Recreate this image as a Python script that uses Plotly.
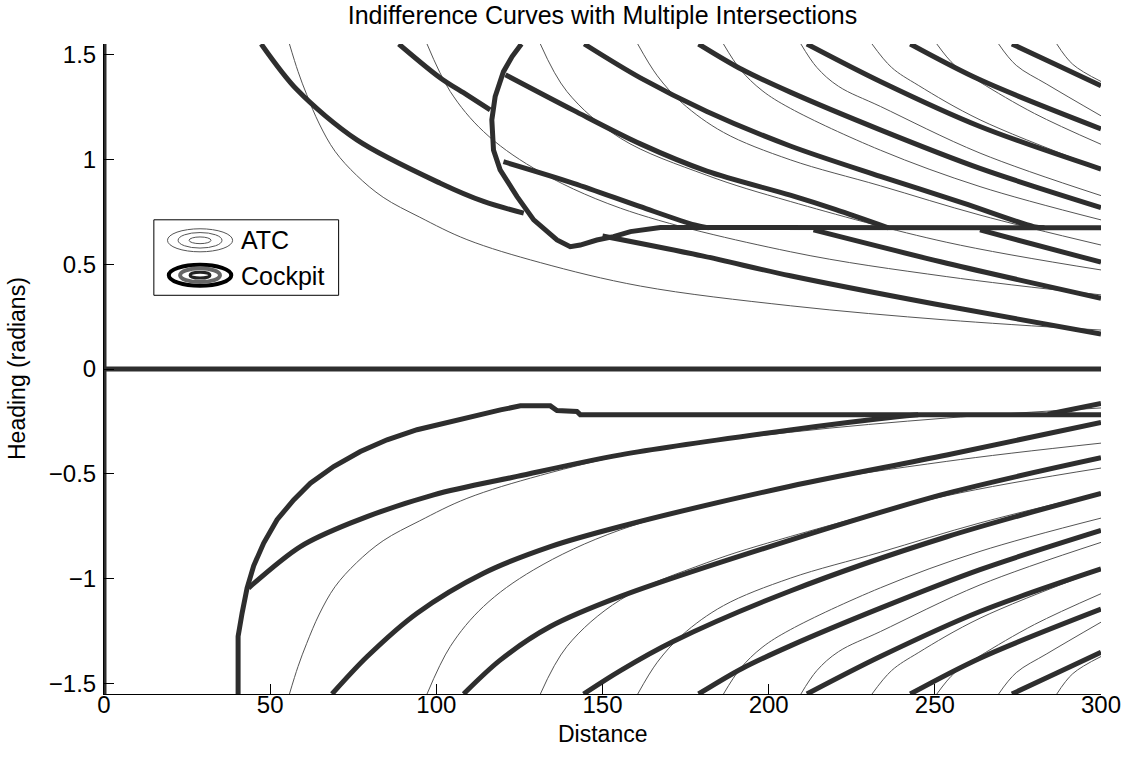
import plotly.graph_objects as go

# ---------------- data ----------------
# ATC indifference curves (thin), upper half; the lower half is their mirror image
atc1_d = [55.8, 58.4, 61.0, 64.8, 69.5, 76.0, 84.0, 95.0, 109.2, 131.3, 161.4, 206.5, 253.6, 300.0]
atc1_h = [1.552, 1.42, 1.31, 1.17, 1.04, 0.925, 0.82, 0.725, 0.618, 0.508, 0.396, 0.302, 0.234, 0.186]
atc2_d = [97.2, 104.2, 114.2, 129.3, 155.4, 206.5, 253.6, 300.0]
atc2_h = [1.552, 1.325, 1.134, 0.959, 0.768, 0.560, 0.441, 0.354]
atc3_d = [131.3, 139.3, 155.4, 181.4, 206.5, 253.6, 300.0]
atc3_h = [1.552, 1.325, 1.102, 0.925, 0.800, 0.605, 0.473]
atc4_d = [160.6, 166.5, 174.0, 186.4, 206.5, 233.6, 263.6, 300.0]
atc4_h = [1.552, 1.400, 1.270, 1.130, 0.999, 0.875, 0.735, 0.592]
atc5_d = [186.4, 191.5, 198.0, 206.5, 233.6, 263.6, 300.0]
atc5_h = [1.552, 1.430, 1.330, 1.245, 1.045, 0.871, 0.712]
atc6_d = [209.7, 214.5, 221.0, 233.6, 263.6, 300.0]
atc6_h = [1.552, 1.440, 1.350, 1.254, 1.031, 0.828]
atc7_d = [231.1, 237.0, 245.0, 263.6, 300.0]
atc7_h = [1.552, 1.440, 1.355, 1.190, 0.957]
atc8_d = [250.6, 256.0, 263.6, 280.0, 300.0]
atc8_h = [1.552, 1.450, 1.370, 1.220, 1.073]
atc9_d = [269.2, 274.5, 283.7, 300.0]
atc9_h = [1.552, 1.450, 1.360, 1.209]
atc10_d = [286.7, 291.5, 300.0]
atc10_h = [1.552, 1.455, 1.373]

# Cockpit indifference curves (thick)
cp_u1_d = [47.3, 58.1, 76.1, 101.2, 114.2, 126.3]
cp_u1_h = [1.552, 1.333, 1.094, 0.887, 0.800, 0.744]
cp_u2_d = [88.7, 101.2, 109.2, 116.2]
cp_u2_h = [1.552, 1.390, 1.309, 1.237]
cp_u3_d = [120.2, 141.3, 161.4, 177.7, 182.0]
cp_u3_h = [0.990, 0.887, 0.775, 0.688, 0.674]
cp_u4_d = [120.8, 141.3, 161.4, 181.4, 206.5, 220.0, 236.0]
cp_u4_h = [1.405, 1.235, 1.075, 0.945, 0.830, 0.762, 0.674]
cp_du_d = [144.5, 161.4, 181.4, 206.5, 233.6, 258.6, 279.7, 283.0]
cp_du_h = [1.552, 1.390, 1.230, 1.065, 0.920, 0.792, 0.680, 0.674]
cp_l1_d = [150.0, 180.0, 206.5, 250.0, 300.0]
cp_l1_h = [0.635, 0.540, 0.445, 0.310, 0.167]
cp_l2_d = [213.5, 253.6, 300.0]
cp_l2_h = [0.664, 0.505, 0.338]
cp_l3_d = [263.6, 300.0]
cp_l3_h = [0.664, 0.510]
# outer curves, symmetric about zero heading (upper half given)
cp_e_d = [178.9, 192.0, 206.5, 233.6, 263.6, 300.0]
cp_e_h = [1.552, 1.430, 1.322, 1.142, 0.958, 0.771]
cp_f_d = [211.5, 233.6, 263.6, 300.0]
cp_f_h = [1.552, 1.373, 1.158, 0.955]
cp_g_d = [242.6, 263.6, 300.0]
cp_g_h = [1.552, 1.381, 1.147]
cp_hh_d = [273.2, 286.7, 300.0]
cp_hh_h = [1.552, 1.452, 1.353]
# lower half
cp_a_d = [43.5, 59.1, 74.1, 99.2, 124.3, 155.4, 206.5, 238.6, 245.0]
cp_a_h = [-1.046, -0.848, -0.736, -0.601, -0.513, -0.410, -0.291, -0.228, -0.218]
cp_b_d = [68.6, 79.2, 94.2, 114.2, 134.3, 155.4, 206.5, 253.6, 300.0]
cp_b_h = [-1.552, -1.373, -1.166, -0.975, -0.848, -0.752, -0.560, -0.411, -0.255]
cp_c_d = [108.2, 119.3, 134.3, 155.4, 206.5, 253.6, 300.0]
cp_c_h = [-1.552, -1.389, -1.230, -1.086, -0.817, -0.594, -0.424]
cp_dl_d = [144.3, 155.4, 171.4, 206.5, 253.6, 300.0]
cp_dl_h = [-1.552, -1.440, -1.300, -1.060, -0.801, -0.594]
cp_fan_d = [284.0, 300.0]
cp_fan_h = [-0.216, -0.165]
# jagged boundaries (upper one runs into the 0.674 plateau, lower into -0.218)
bnd_up_d = [125.6, 122.8, 120.2, 117.7, 116.7, 117.2, 119.2, 124.3, 129.3, 136.3,
            140.3, 143.3, 148.3, 153.3, 158.4, 167.4, 300.0]
bnd_up_h = [1.552, 1.492, 1.420, 1.301, 1.190, 1.046, 0.951, 0.823, 0.712, 0.616,
            0.584, 0.592, 0.616, 0.632, 0.656, 0.676, 0.674]
bnd_lo_d = [40.35, 40.35, 41.55, 43.05, 45.04, 48.05, 52.08, 57.07, 62.10, 69.11,
            77.15, 85.18, 94.20, 104.2, 114.2, 119.3, 125.3, 134.3, 136.3, 142.3,
            143.3, 300.0]
bnd_lo_h = [-1.552, -1.277, -1.166, -1.046, -0.940, -0.831, -0.720, -0.625, -0.545, -0.466,
            -0.394, -0.338, -0.290, -0.251, -0.211, -0.195, -0.176, -0.176, -0.198, -0.203,
            -0.218, -0.218]
zero_h_d = [0.0, 300.0]
zero_h_h = [0.0, 0.0]
zero_v_d = [0.0, 0.0]
zero_v_h = [-1.552, 1.552]

x_ticks = [0, 50, 100, 150, 200, 250, 300]
x_ticktext = ["0", "50", "100", "150", "200", "250", "300"]
y_ticks = [-1.5, -1.0, -0.5, 0.0, 0.5, 1.0, 1.5]
y_ticktext = ["\u22121.5", "\u22121", "\u22120.5", "0", "0.5", "1", "1.5"]

# ---------------- figure ----------------
THIN = dict(color="#555555", width=1)
THICK = dict(color="#2e2e2e", width=5)
FONT = "Liberation Sans, Arial, Helvetica, sans-serif"
W, H = 1128, 761
ML, MR, MT, MB = 104, 27, 44, 67

fig = go.Figure()

atc = [(atc1_d, atc1_h), (atc2_d, atc2_h), (atc3_d, atc3_h), (atc4_d, atc4_h),
       (atc5_d, atc5_h), (atc6_d, atc6_h), (atc7_d, atc7_h), (atc8_d, atc8_h),
       (atc9_d, atc9_h), (atc10_d, atc10_h)]
for d, h in atc:
    for sgn in (1, -1):
        fig.add_trace(go.Scatter(x=d, y=[sgn * v for v in h], mode="lines",
                                 line=dict(THIN, shape="spline", smoothing=1.0),
                                 hoverinfo="skip", showlegend=False))

smooth_thick = [(cp_u1_d, cp_u1_h), (cp_u2_d, cp_u2_h), (cp_u3_d, cp_u3_h),
                (cp_u4_d, cp_u4_h), (cp_du_d, cp_du_h), (cp_l1_d, cp_l1_h),
                (cp_l2_d, cp_l2_h), (cp_l3_d, cp_l3_h), (cp_a_d, cp_a_h),
                (cp_b_d, cp_b_h), (cp_c_d, cp_c_h), (cp_dl_d, cp_dl_h),
                (cp_fan_d, cp_fan_h)]
for d, h in smooth_thick:
    fig.add_trace(go.Scatter(x=d, y=h, mode="lines",
                             line=dict(THICK, shape="spline", smoothing=0.9),
                             hoverinfo="skip", showlegend=False))
for d, h in [(cp_e_d, cp_e_h), (cp_f_d, cp_f_h), (cp_g_d, cp_g_h), (cp_hh_d, cp_hh_h)]:
    for sgn in (1, -1):
        fig.add_trace(go.Scatter(x=d, y=[sgn * v for v in h], mode="lines",
                                 line=dict(THICK, shape="spline", smoothing=0.9),
                                 hoverinfo="skip", showlegend=False))
for d, h in [(bnd_up_d, bnd_up_h), (bnd_lo_d, bnd_lo_h), (zero_h_d, zero_h_h),
             (zero_v_d, zero_v_h)]:
    fig.add_trace(go.Scatter(x=d, y=h, mode="lines", line=THICK,
                             hoverinfo="skip", showlegend=False))

# ---------------- hand-drawn legend (concentric ellipse icons) ----------------
shapes = [dict(type="rect", xref="x", yref="y", x0=15.0, x1=70.6, y0=0.352, y1=0.7125,
               line=dict(color="black", width=1), fillcolor="white", layer="above")]
cx, cy = 28.9, 0.6146
for hw, hh in [(9.8, 0.055), (6.6, 0.037), (3.3, 0.016)]:
    shapes.append(dict(type="circle", xref="x", yref="y", x0=cx - hw, x1=cx + hw,
                       y0=cy - hh, y1=cy + hh, line=dict(color="#555555", width=1)))
cy2 = 0.4480
for hw, hh, col, w in [(9.4, 0.050, "black", 4), (6.0, 0.033, "#666666", 4),
                       (3.0, 0.014, "#222222", 3)]:
    shapes.append(dict(type="circle", xref="x", yref="y", x0=cx - hw, x1=cx + hw,
                       y0=cy2 - hh, y1=cy2 + hh, line=dict(color=col, width=w)))

txt = dict(family=FONT, size=25, color="black")
lab = dict(family=FONT, size=23, color="black")
annotations = [
    dict(x=40.7, y=0.6146, xref="x", yref="y", text="ATC", showarrow=False,
         xanchor="left", yanchor="middle", font=txt),
    dict(x=40.7, y=0.4450, xref="x", yref="y", text="Cockpit", showarrow=False,
         xanchor="left", yanchor="middle", font=txt),
    # axis titles
    dict(x=0.5, y=0, xref="paper", yref="paper", text="Distance", showarrow=False,
         xanchor="center", yanchor="middle", yshift=-40, font=lab),
    dict(x=0, y=0.5, xref="paper", yref="paper", text="Heading (radians)",
         showarrow=False, textangle=-90, xanchor="center", yanchor="middle",
         xshift=-(ML - 17), font=lab),
]

fig.update_layout(
    width=W, height=H, autosize=False,
    margin=dict(l=ML, r=MR, t=MT, b=MB, autoexpand=False),
    paper_bgcolor="white", plot_bgcolor="white",
    font=dict(family=FONT, size=24, color="black"),
    title=dict(text="Indifference Curves with Multiple Intersections", x=0.5,
               xref="paper", xanchor="center", y=1 - 15 / H, yref="container",
               yanchor="middle", font=txt),
    shapes=shapes, annotations=annotations, showlegend=False,
)
fig.update_xaxes(range=[0, 300], tickvals=x_ticks, ticktext=x_ticktext,
                 ticks="inside", ticklen=10, tickwidth=1, tickcolor="black",
                 showline=True, linecolor="black", linewidth=1, showgrid=False,
                 zeroline=False, mirror=False, automargin=False,
                 ticklabelstandoff=-11, ticklabeloverflow="allow")
fig.update_yaxes(range=[-1.552, 1.552], tickvals=y_ticks, ticktext=y_ticktext,
                 ticks="inside", ticklen=10, tickwidth=1, tickcolor="black",
                 showline=True, linecolor="black", linewidth=1, showgrid=False,
                 zeroline=False, mirror=False, automargin=False,
                 ticklabelstandoff=2, ticklabeloverflow="allow")

fig.write_html("out.html", config={"displayModeBar": False},
               post_script="document.body.style.margin='0';")
